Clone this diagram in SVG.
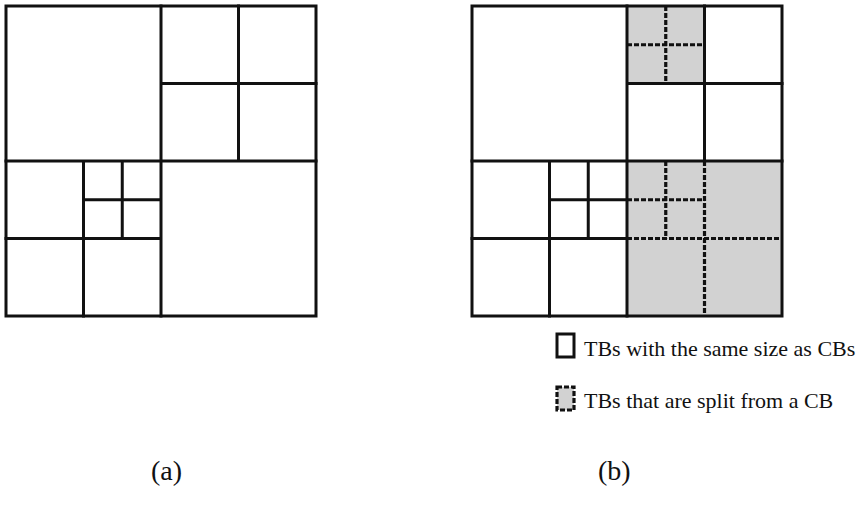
<svg xmlns="http://www.w3.org/2000/svg" width="863" height="508" viewBox="0 0 863 508">
  <style>
    .solid { fill: none; stroke: #111; stroke-width: 3; stroke-linecap: square; }
    .dash { fill: none; stroke: #111; stroke-width: 3.2; stroke-dasharray: 5 2; }
    .split { fill: #d2d2d2; stroke: none; }
    .label { font-family: "Liberation Serif", "Times New Roman", serif; font-size: 22px; fill: #111; }
    .caption { font-family: "Liberation Serif", "Times New Roman", serif; font-size: 28px; fill: #111; }
  </style>

  <!-- (a): CB quadtree partition -->
  <g id="partition-a">
    <rect class="solid" x="6" y="6" width="310" height="310"/>
    <path class="solid" d="M161 6V316 M6 161H316 M238.5 6V161 M161 83.5H316 M83.5 161V316 M6 238.5H161 M122.25 161V238.5 M83.5 199.75H161"/>
  </g>

  <!-- (b): TB partition over the same CBs -->
  <g id="partition-b">
    <rect class="split" x="627" y="6" width="77.5" height="77.5"/>
    <rect class="split" x="627" y="161" width="155" height="155"/>
    <rect class="solid" x="472" y="6" width="310" height="310"/>
    <path class="solid" d="M627 6V316 M472 161H782 M704.5 6V161 M627 83.5H782 M549.5 161V316 M472 238.5H627 M588.25 161V238.5 M549.5 199.75H627"/>
    <!-- TBs split from a CB -->
    <path class="dash" d="M665.75 6V83.5 M627 44.75H704.5"/>
    <path class="dash" d="M704.5 161V316 M627 238.5H782 M665.75 161V238.5 M627 199.75H704.5"/>
  </g>

  <!-- legend -->
  <g id="legend-same">
    <rect class="solid" x="557" y="334" width="17" height="23"/>
    <text class="label" x="584" y="356">TBs with the same size as CBs</text>
  </g>
  <g id="legend-split">
    <rect class="split" x="557" y="387" width="17" height="23"/>
    <rect class="dash" x="557" y="387" width="17" height="23"/>
    <text class="label" x="584" y="408">TBs that are split from a CB</text>
  </g>

  <!-- captions -->
  <text class="caption" id="caption-a" x="151" y="480">(a)</text>
  <text class="caption" id="caption-b" x="598" y="480">(b)</text>
</svg>
